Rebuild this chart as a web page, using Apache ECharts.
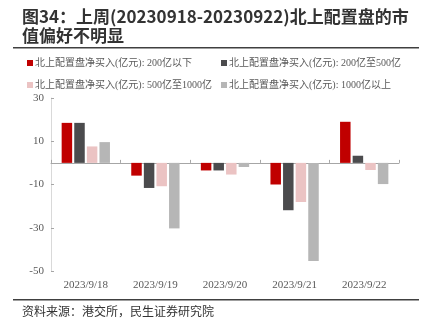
<!DOCTYPE html>
<html>
<head>
<meta charset="utf-8">
<script src="https://cdn.jsdelivr.net/npm/echarts@6/dist/echarts.min.js"></script>
<style>
html,body{margin:0;padding:0;background:#fff;}
#c{width:426px;height:329px;}
</style>
</head>
<body>
<div id="c"></div>
<script>
var categories = ['2023/9/18', '2023/9/19', '2023/9/20', '2023/9/21', '2023/9/22'];
var seriesNames = [
  '北上配置盘净买入(亿元): 200亿以下',
  '北上配置盘净买入(亿元): 200亿至500亿',
  '北上配置盘净买入(亿元): 500亿至1000亿',
  '北上配置盘净买入(亿元): 1000亿以上'
];
var below200 = [18.5, -5.9, -3.5, -10.0, 19.0];
var from200to500 = [18.5, -11.6, -3.5, -21.9, 3.3];
var from500to1000 = [7.6, -10.8, -5.4, -18.1, -3.3];
var above1000 = [9.6, -30.3, -1.9, -45.4, -9.8];
var yTicks = { min: -50, max: 30, interval: 20 };

var colors = ['#C00000', '#4B4B4D', '#EBC3C3', '#B6B6B6'];
var values = [below200, from200to500, from500to1000, above1000];

var chart = echarts.init(document.getElementById('c'), null, {renderer: 'canvas'});
var cjk = '"Liberation Serif", "Noto Sans CJK SC", serif';

var legendPos = [[27, 58], [221, 58], [27, 80], [221, 80]];
var legends = seriesNames.map(function (n, i) {
  return {
    data: [n], left: legendPos[i][0], top: legendPos[i][1],
    icon: 'rect', itemWidth: 6, itemHeight: 6, itemGap: 0,
    textStyle: { fontFamily: cjk, fontSize: 10, color: '#595959', padding: [0, 0, 0, -3] },
    selectedMode: false, padding: 0
  };
});

chart.setOption({
  animation: false,
  color: colors,
  legend: legends,
  grid: { left: 51, right: 27, top: 98, bottom: 58, containLabel: false },
  xAxis: [{
    type: 'category', data: categories, position: 'bottom',
    axisLine: { onZero: true, lineStyle: { color: '#A6A6A6', width: 1 } },
    axisTick: { show: true, inside: true, length: 3, lineStyle: { color: '#A6A6A6' } },
    axisLabel: { show: false }
  }, {
    type: 'category', data: categories, position: 'bottom',
    axisLine: { show: false, onZero: false },
    axisTick: { show: false },
    axisLabel: { margin: 9, fontFamily: '"Liberation Serif", serif', fontSize: 11, color: '#595959' }
  }],
  yAxis: {
    type: 'value', min: yTicks.min, max: yTicks.max, interval: yTicks.interval,
    axisLine: { show: true, lineStyle: { color: '#D9D9D9' } },
    axisTick: { show: true, inside: true, length: 3, lineStyle: { color: '#A6A6A6' } },
    splitLine: { show: false },
    axisLabel: { margin: 7, fontFamily: '"Liberation Serif", serif', fontSize: 11, color: '#595959' }
  },
  series: values.map(function (v, i) {
    return {
      name: seriesNames[i], type: 'bar', data: v, xAxisIndex: 0,
      barWidth: 10.5, barGap: '20%',
      itemStyle: { color: colors[i] }
    };
  }),
  graphic: [
    { type: 'text', left: 22, top: 8, style: { text: '图34：上周(20230918-20230922)北上配置盘的市', font: 'bold 17px "Noto Sans CJK SC", sans-serif', fill: '#333333' } },
    { type: 'text', left: 22, top: 27, style: { text: '值偏好不明显', font: 'bold 17px "Noto Sans CJK SC", sans-serif', fill: '#333333' } },
    { type: 'rect', shape: { x: 13, y: 47, width: 406, height: 1.5 }, style: { fill: '#404040' } },
    { type: 'rect', shape: { x: 13, y: 299, width: 406, height: 1.5 }, style: { fill: '#404040' } },
    { type: 'text', left: 22, top: 305, style: { text: '资料来源：港交所，民生证券研究院', font: '12px "Noto Sans CJK SC", sans-serif', fill: '#333333' } }
  ]
});
</script>
</body>
</html>
